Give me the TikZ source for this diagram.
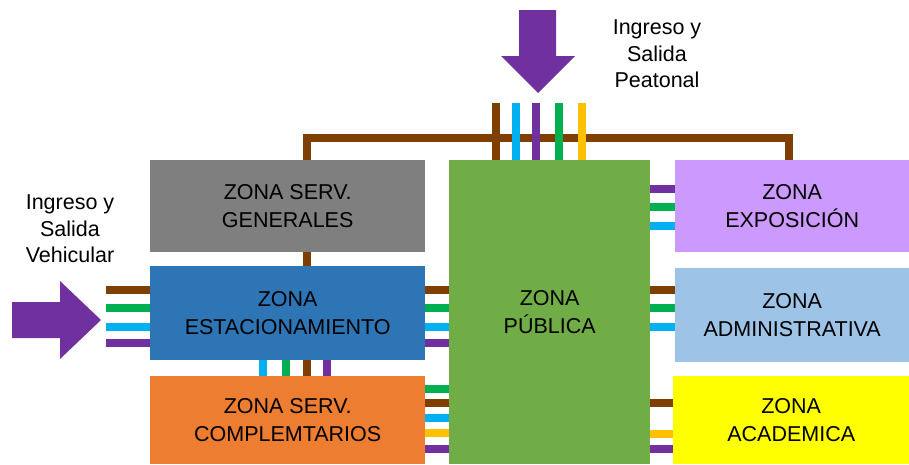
\documentclass[tikz,border=0pt]{standalone}
\usepackage{fontspec}
\setmainfont{Liberation Sans}
\definecolor{cbrown}{HTML}{7F3F00}
\definecolor{ccyan}{HTML}{00B0F0}
\definecolor{cpurple}{HTML}{7030A0}
\definecolor{cgreen}{HTML}{00B050}
\definecolor{cyellow}{HTML}{FFC000}
\definecolor{zgray}{HTML}{7F7F7F}
\definecolor{zblue}{HTML}{2E75B6}
\definecolor{zorange}{HTML}{ED7D31}
\definecolor{zgreen}{HTML}{70AD47}
\definecolor{zlav}{HTML}{CC99FF}
\definecolor{zlblue}{HTML}{9DC3E6}
\definecolor{zyellow}{HTML}{FFFF00}
\begin{document}
\begin{tikzpicture}[x=1pt,y=-1pt,
  zone/.style={draw=none,anchor=north west,align=center,inner sep=0pt,
    font=\fontsize{21.5}{28}\selectfont},
  lbl/.style={align=center,inner sep=0pt,font=\fontsize{21.5}{26.5}\selectfont},
  link/.style={line width=7.5pt}]
\useasboundingbox (0,0) rectangle (909,464);
% background brown bracket
\draw[link,cbrown] (307,376) -- (307,138) -- (789,138) -- (789,161);
% zones
\node[zone,fill=zgray,minimum width=275pt,minimum height=92pt] (gen) at (150,160) {ZONA SERV.\\GENERALES};
\node[zone,fill=zblue,minimum width=275pt,minimum height=94pt] (est) at (150,266) {ZONA\\ESTACIONAMIENTO};
\node[zone,fill=zorange,minimum width=275pt,minimum height=88pt] (com) at (150,376) {ZONA SERV.\\COMPLEMTARIOS};
\node[zone,fill=zgreen,minimum width=201pt,minimum height=304pt] (pub) at (449,160) {ZONA\\PÚBLICA};
\node[zone,fill=zlav,minimum width=234pt,minimum height=92pt] (exp) at (675,160) {ZONA\\EXPOSICIÓN};
\node[zone,fill=zlblue,minimum width=234pt,minimum height=94pt] (adm) at (675,268) {ZONA\\ADMINISTRATIVA};
\node[zone,fill=zyellow,minimum width=236pt,minimum height=88pt] (aca) at (673,376) {ZONA\\ACADEMICA};
% free ends
\coordinate (topend) at (0,103);
\coordinate (leftend) at (106,0);
% top pedestrian lines
\foreach \xx/\cc in {496/cbrown,516/ccyan,536/cpurple,559/cgreen,582/cyellow}
  \draw[link,\cc] (pub.north -| \xx,0) -- (topend -| \xx,0);
% left vehicular lines
\foreach \yy/\cc in {290/cbrown,308/cgreen,327/ccyan,343/cpurple}
  \draw[link,\cc] (leftend |- 0,\yy) -- (est.west |- 0,\yy);
% estacionamiento - publica
\foreach \yy/\cc in {290/cbrown,308/cgreen,327/ccyan,343/cpurple}
  \draw[link,\cc] (est.east |- 0,\yy) -- (pub.west |- 0,\yy);
% estacionamiento - complementarios
\foreach \xx/\cc in {263/ccyan,286/cgreen,327/cpurple}
  \draw[link,\cc] (est.south -| \xx,0) -- (com.north -| \xx,0);
% complementarios - publica
\foreach \yy/\cc in {389/cgreen,403/cbrown,418/ccyan,433/cyellow,449/cpurple}
  \draw[link,\cc] (com.east |- 0,\yy) -- (pub.west |- 0,\yy);
% publica - exposicion
\foreach \yy/\cc in {189/cpurple,207/cgreen,226/ccyan}
  \draw[link,\cc] (pub.east |- 0,\yy) -- (exp.west |- 0,\yy);
% publica - administrativa
\foreach \yy/\cc in {290/cbrown,308/cgreen,327/ccyan}
  \draw[link,\cc] (pub.east |- 0,\yy) -- (adm.west |- 0,\yy);
% publica - academica
\foreach \yy/\cc in {403/cbrown,434/cyellow,449/cpurple}
  \draw[link,\cc] (pub.east |- 0,\yy) -- (aca.west |- 0,\yy);
% arrows
\fill[cpurple] (519,10) -- (556,10) -- (556,56) -- (575,56) -- (538,93) -- (501,56) -- (519,56) -- cycle;
\fill[cpurple] (12,302) -- (60,302) -- (60,281) -- (101,320) -- (60,359) -- (60,338) -- (12,338) -- cycle;
% labels
\node[lbl] (veh) at (70,229) {Ingreso y\\Salida\\Vehicular};
\node[lbl] (pea) at (657,54) {Ingreso y\\Salida\\Peatonal};
\end{tikzpicture}
\end{document}
